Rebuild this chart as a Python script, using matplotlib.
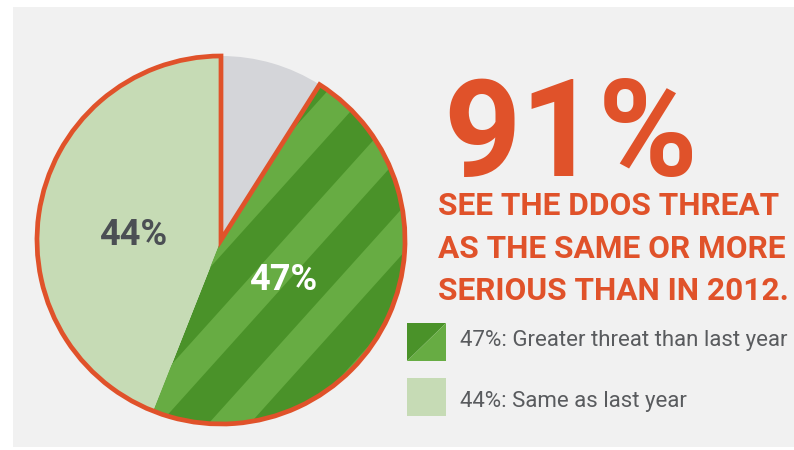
import matplotlib
matplotlib.use("Agg")
import matplotlib.pyplot as plt
from matplotlib.patches import Wedge, Rectangle, Polygon

# data
labels = ["Less serious", "Greater threat than last year", "Same as last year"]
shares = [9, 47, 44]
headline = "91%"
subtitle = ["SEE THE DDOS THREAT", "AS THE SAME OR MORE", "SERIOUS THAN IN 2012."]
legend_labels = ["47%: Greater threat than last year", "44%: Same as last year"]

# colours
grey = "#d4d5d9"
dark_green = "#4a9229"
light_stripe = "#67ac43"
pale_green = "#c6dbb5"
orange = "#e0522a"
text_grey = "#595b5e"

W, H = 794, 450
fig = plt.figure(figsize=(W / 100, H / 100), dpi=100)
fig.patch.set_facecolor("white")
ax = fig.add_axes([0, 0, 1, 1])

# paper panel
ax.add_patch(Rectangle((13, 3), W - 13, H - 10, facecolor="#f1f1f1", edgecolor="none", zorder=0))

cx, cy, R = 221, 210, 184
wedges, _ = ax.pie(shares, colors=[grey, dark_green, pale_green], startangle=90,
                   counterclock=False, center=(cx, cy), radius=R,
                   wedgeprops=dict(linewidth=0))
ax.set_xlim(0, W)
ax.set_ylim(0, H)
ax.set_aspect("equal")
ax.axis("off")

# diagonal stripes inside the green wedge
green = wedges[1]
period, width, offset, k = 0.49, 0.225, 0.34, 0.9
for i in range(-4, 5):
    a = (offset + i * period) * R
    b = a + width * R
    v0, v1 = -1.3 * R, 1.3 * R
    poly = Polygon([(cx + a + k * v0, cy + v0), (cx + a + k * v1, cy + v1),
                    (cx + b + k * v1, cy + v1), (cx + b + k * v0, cy + v0)],
                   closed=True, facecolor=light_stripe, edgecolor="none", zorder=green.get_zorder() + 0.1)
    ax.add_patch(poly)
    poly.set_clip_path(green)

# orange outline around the 91% share (clockwise from 12 o'clock past the grey slice)
theta_end = 90 - 360 * shares[0] / sum(shares)
ax.add_patch(Wedge((cx, cy), R, -270, theta_end, facecolor="none", edgecolor=orange,
                   linewidth=3.4, joinstyle="miter", zorder=5))

fam = ["Roboto", "DejaVu Sans"]

# slice labels
ax.text(cx - 0.478 * R, cy + 0.027 * R, f"{shares[2]}%", ha="center", va="center",
        fontsize=26, fontweight="bold", family=fam, color="#4b4f54", zorder=6)
ax.text(cx + 0.337 * R, cy - 0.217 * R, f"{shares[1]}%", ha="center", va="center",
        fontsize=26, fontweight="bold", family=fam, color="white", zorder=6)

renderer = fig.canvas.get_renderer()


def fit(t, target):
    w = t.get_window_extent(renderer).width
    t.set_fontsize(t.get_fontsize() * target / w)


# headline
big = ax.text(443, H - 176, headline, ha="left", va="baseline", fontsize=98, fontweight="bold",
              family=fam, color=orange)
fit(big, 255)
subs = []
for line, base in zip(subtitle, [215, 258, 300]):
    subs.append(ax.text(438, H - base, line, ha="left", va="baseline", fontsize=23,
                        fontweight="bold", family=fam, color=orange))
fit(subs[2], 352)
for t in subs[:2]:
    t.set_fontsize(subs[2].get_fontsize())

# legend
ax.add_patch(Polygon([(407, H - 361), (407, H - 323), (446, H - 323)], facecolor=dark_green, edgecolor="none"))
ax.add_patch(Polygon([(407, H - 361), (446, H - 323), (446, H - 361)], facecolor=light_stripe, edgecolor="none"))
ax.add_patch(Rectangle((407, H - 416), 39, 38, facecolor=pale_green, edgecolor="none"))
legs = []
for text, base in zip(legend_labels, [346, 407]):
    legs.append(ax.text(460, H - base, text, ha="left", va="baseline", fontsize=18,
                        family=fam, color=text_grey))
fit(legs[0], 328)
legs[1].set_fontsize(legs[0].get_fontsize())

fig.savefig("out.png", dpi=100)
